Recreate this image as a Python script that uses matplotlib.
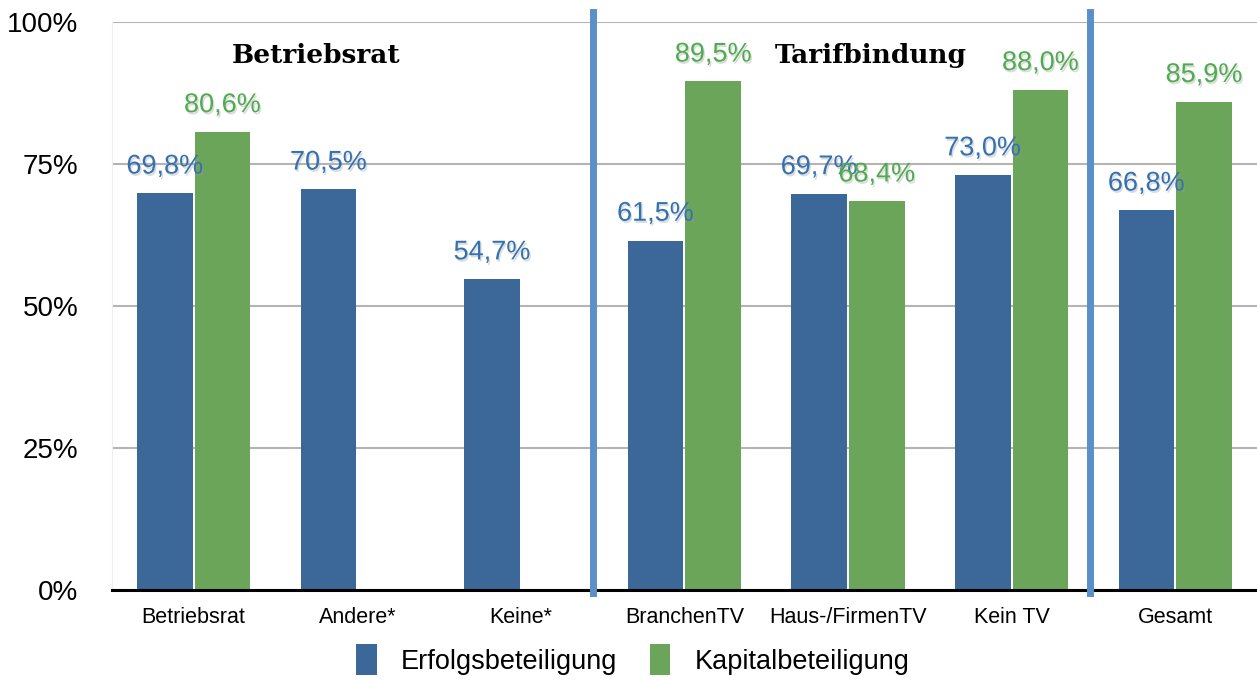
import matplotlib
matplotlib.use("Agg")
import matplotlib.pyplot as plt
import matplotlib.patheffects as pe
import numpy as np

plt.rcParams["font.family"] = ["Liberation Sans", "DejaVu Sans"]

categories = ["Betriebsrat", "Andere*", "Keine*", "BranchenTV", "Haus-/FirmenTV", "Kein TV", "Gesamt"]
erfolg = [69.8, 70.5, 54.7, 61.5, 69.7, 73.0, 66.8]
kapital = [80.6, None, None, 89.5, 68.4, 88.0, 85.9]
yticks = [0, 25, 50, 75, 100]
sections = ["Betriebsrat", "Tarifbindung"]

blue = "#3b6898"
green = "#6aa55a"
blue_txt = "#3571b0"
green_txt = "#4fab4f"
sep_col = "#5b8fc7"

fig = plt.figure(figsize=(12.57, 6.8), dpi=100)
ax = fig.add_axes([0.089, 0.132, 0.911, 0.836])

x = np.arange(len(categories))
w = 0.34
off = 0.176
shadow = [pe.withSimplePatchShadow(offset=(1, -1.5), shadow_rgbFace="#999999", alpha=0.35)]


def fmt(v):
    return ("%.1f" % v).replace(".", ",") + "%"


for i in range(len(categories)):
    ax.bar(x[i] - off, erfolg[i], w, color=blue, zorder=3)
    ax.annotate(fmt(erfolg[i]), (x[i] - off, erfolg[i]), xytext=(0, 10), textcoords="offset points",
                ha="center", va="bottom", fontsize=19.5, color=blue_txt, zorder=5, path_effects=shadow)
    if kapital[i] is not None:
        ax.bar(x[i] + off, kapital[i], w, color=green, zorder=3)
        ax.annotate(fmt(kapital[i]), (x[i] + off, kapital[i]), xytext=(0, 10), textcoords="offset points",
                    ha="center", va="bottom", fontsize=19.5, color=green_txt, zorder=5, path_effects=shadow)

ax.set_xlim(-0.5, len(categories) - 0.5)
ax.set_ylim(0, 100)
ax.set_yticks(yticks)
ax.set_yticklabels(["%d%%" % v for v in yticks], fontsize=20)
ax.set_xticks(x)
ax.set_xticklabels(categories, fontsize=15.5)
ax.tick_params(axis="both", length=0)
ax.tick_params(axis="x", pad=12)
ax.tick_params(axis="y", pad=24)
ax.grid(axis="y", color="#b4b4b4", linewidth=1.5, zorder=0)

for s in ["top", "right"]:
    ax.spines[s].set_visible(False)
ax.spines["left"].set_color("#eeeeee")
ax.spines["bottom"].set_linewidth(2.2)
ax.spines["bottom"].set_zorder(4)

# Trennlinien zwischen den Gruppen
for xs in [2.44, 5.48]:
    ax.plot([xs, xs], [-0.5, 101.8], color=sep_col, linewidth=5, zorder=6, clip_on=False,
            path_effects=[pe.withSimplePatchShadow(offset=(2, -2), shadow_rgbFace="#888888", alpha=0.3)])

ax.text(0.75, 94, sections[0], ha="center", va="center", fontsize=19, fontweight="bold",
        family="DejaVu Serif", zorder=7)
ax.text(4.14, 94, sections[1], ha="center", va="center", fontsize=19, fontweight="bold",
        family="DejaVu Serif", zorder=7)

ax.bar([0], [0], 0, color=blue, label="Erfolgsbeteiligung")
ax.bar([0], [0], 0, color=green, label="Kapitalbeteiligung")
ax.legend(loc="upper center", bbox_to_anchor=(0.455, -0.085), ncol=2, frameon=False,
          fontsize=19.5, handlelength=0.75, handleheight=1.4, columnspacing=1.2, handletextpad=0.9,
          borderaxespad=0, borderpad=0.2)

fig.savefig("out.png", dpi=100)
